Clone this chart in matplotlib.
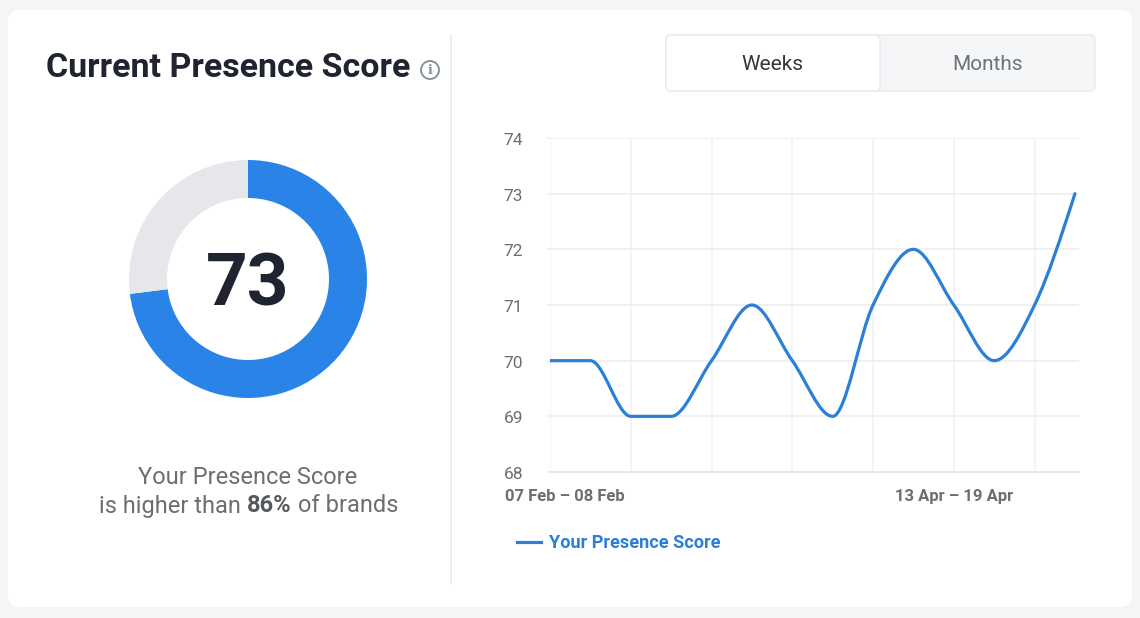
import matplotlib
matplotlib.use("Agg")
import matplotlib.pyplot as plt
from matplotlib.lines import Line2D
from matplotlib.patches import Circle, FancyBboxPatch, PathPatch
from matplotlib.path import Path
from matplotlib.transforms import Affine2D

plt.rcParams["font.family"] = ["Roboto", "DejaVu Sans"]

W, H = 1140, 618

# ─── Data ───────────────────────────────────────────────────
WEEKS = list(range(14))
SCORES = [70, 70, 69, 69, 70, 71, 70, 69, 71, 72, 71, 70, 71, 73]
TICK_WEEKS = [0, 2, 4, 6, 8, 10, 12]
TICK_LABELS = ["07 Feb – 08 Feb", "", "", "", "", "13 Apr – 19 Apr", ""]
Y_TICKS = [68, 69, 70, 71, 72, 73, 74]
CURRENT_SCORE = 73
MAX_SCORE = 100
BRANDS_PCT = 86

BLUE = "#2a84e8"
LINE_BLUE = "#2b7fd6"
GRID = "#eceef0"
VGRID = "#f1f2f4"
DARK = "#1f2430"
GREY = "#6b6e72"


def monotone_path(xs, ys):
    """Build a monotone cubic bezier path through the points."""
    n = len(xs)
    slopes = [(ys[i + 1] - ys[i]) / (xs[i + 1] - xs[i]) for i in range(n - 1)]
    tangents = [0.0] * n
    for i in range(1, n - 1):
        s0, s1 = slopes[i - 1], slopes[i]
        if s0 * s1 <= 0:
            continue
        sign = 1 if s0 > 0 else -1
        tangents[i] = 2 * sign * min(abs(s0), abs(s1), 0.25 * abs(s0 + s1))
    tangents[0] = (3 * slopes[0] - tangents[1]) / 2
    tangents[-1] = (3 * slopes[-1] - tangents[-2]) / 2

    verts = [(xs[0], ys[0])]
    codes = [Path.MOVETO]
    for i in range(n - 1):
        d = (xs[i + 1] - xs[i]) / 3
        verts += [(xs[i] + d, ys[i] + tangents[i] * d),
                  (xs[i + 1] - d, ys[i + 1] - tangents[i + 1] * d),
                  (xs[i + 1], ys[i + 1])]
        codes += [Path.CURVE4] * 3
    return Path(verts, codes)


def axes_px(fig, left, top, right, bottom):
    """Add axes from pixel coordinates measured from the top left."""
    return fig.add_axes([left / W, 1 - bottom / H, (right - left) / W, (bottom - top) / H])


fig = plt.figure(figsize=(W / 100, H / 100), dpi=100, facecolor="#f3f5f7")

# ─── Card and page furniture, in pixel coordinates ──────────
bg = fig.add_axes([0, 0, 1, 1])
bg.set_xlim(0, W)
bg.set_ylim(H, 0)
bg.axis("off")

bg.add_patch(FancyBboxPatch((8, 10), 1124, 597, boxstyle="round,pad=0,rounding_size=12",
                            fc="white", ec="none"))
bg.plot([451, 451], [35, 584], color="#e8eaec", lw=1.2)

bg.text(46, 68, "Current Presence Score", fontsize=24.5, fontweight="bold",
        color=DARK, va="center", ha="left")
bg.add_patch(Circle((430, 70), 9, fc="white", ec="#8496a3", lw=1.4))
bg.text(430, 70, "i", fontsize=9, fontweight="bold", color="#7a8d9a",
        ha="center", va="center", family=["DejaVu Serif"])

# Weeks / Months toggle
bg.add_patch(FancyBboxPatch((666, 35), 429, 56, boxstyle="round,pad=0,rounding_size=5",
                            fc="#f5f6f7", ec="#e8eaed", lw=1))
bg.add_patch(FancyBboxPatch((666, 35), 214, 56, boxstyle="round,pad=0,rounding_size=5",
                            fc="white", ec="#e8eaed", lw=1))
bg.text(772, 64, "Weeks", fontsize=15, color="#33363a", ha="center", va="center")
bg.text(988, 64, "Months", fontsize=15, color="#6f7276", ha="center", va="center")

# Caption under the donut
bg.text(248, 477, "Your Presence Score", fontsize=17, color=GREY, ha="center", va="center")
bg.text(241, 506, "is higher than", fontsize=17, color=GREY, ha="right", va="center")
bg.text(247, 506, f"{BRANDS_PCT}%", fontsize=17, color="#55585c", fontweight="bold",
        ha="left", va="center")
bg.text(298, 506, "of brands", fontsize=17, color=GREY, ha="left", va="center")

# ─── Donut ──────────────────────────────────────────────────
donut = axes_px(fig, 129, 160, 367, 398)
donut.pie([CURRENT_SCORE, MAX_SCORE - CURRENT_SCORE], colors=[BLUE, "#e5e7ea"],
          startangle=90, counterclock=False, radius=1,
          wedgeprops={"width": 38 / 119, "linewidth": 0})
donut.set_xlim(-1, 1)
donut.set_ylim(-1, 1)
donut.text(0, -0.055, str(CURRENT_SCORE), fontsize=52.5, fontweight="bold", color=DARK,
           ha="center", va="center")

# ─── Line chart ─────────────────────────────────────────────
ax = axes_px(fig, 550, 138, 1079, 472)
ax.patch.set_alpha(0)
ax.set_xlim(0, 13.1)
ax.set_ylim(68, 74)
ax.set_yticks(Y_TICKS)
ax.set_xticks(TICK_WEEKS)
ax.set_xticklabels(TICK_LABELS, fontsize=12, fontweight="bold", color=GREY)
ax.tick_params(axis="y", length=2, color=GRID, width=1.2, pad=18, labelsize=12.5, labelcolor=GREY)
ax.tick_params(axis="x", length=0, pad=12)
ax.grid(True, axis="y", color=GRID, lw=1.2)
ax.grid(True, axis="x", color=VGRID, lw=1.2)
ax.set_axisbelow(True)
for s in ax.spines.values():
    s.set_visible(False)
ax.spines["bottom"].set_visible(True)
ax.spines["bottom"].set_color("#e6e8ea")
ax.spines["bottom"].set_linewidth(1.4)

# nudge y labels down a touch to sit like the reference
for lab in ax.get_yticklabels():
    lab.set_transform(lab.get_transform() + Affine2D().translate(1, -1))

# first label is pushed right so it stays inside the chart
first = ax.get_xticklabels()[0]
first.set_transform(first.get_transform() + Affine2D().translate(15, 0))

ax.add_patch(PathPatch(monotone_path(WEEKS, SCORES), fc="none", ec=LINE_BLUE, lw=2.3,
                       capstyle="round", joinstyle="round", zorder=3))

handle = Line2D([], [], color=LINE_BLUE, lw=2.3)
leg = ax.legend([handle], ["Your Presence Score"], loc="center left", frameon=False,
                bbox_to_anchor=((517 - 550) / 529, (472 - 543) / 334), borderpad=0,
                borderaxespad=0, handlelength=1.33, handletextpad=0.44,
                prop={"size": 13.1, "weight": "bold"}, labelcolor=LINE_BLUE)

fig.savefig("out.png", dpi=100, facecolor=fig.get_facecolor())
